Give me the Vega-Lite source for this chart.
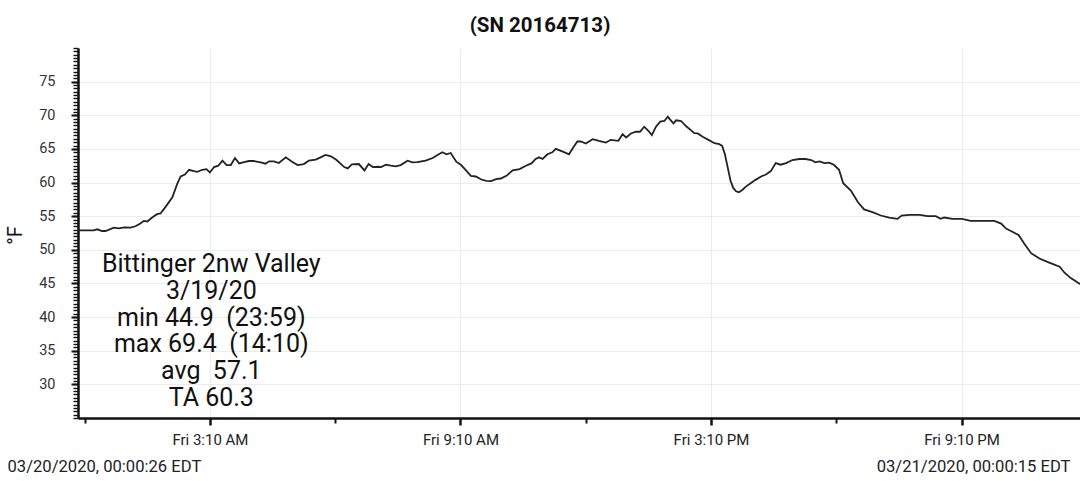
{
  "$schema": "https://vega.github.io/schema/vega-lite/v6.json",
  "width": 1002,
  "height": 370,
  "autosize": "none",
  "padding": {"left": 78, "top": 48, "right": 0, "bottom": 63},
  "background": "white",
  "title": {
    "text": "(SN 20164713)",
    "font": "Roboto",
    "fontSize": 20.5,
    "fontWeight": "bold",
    "color": "#111",
    "anchor": "middle",
    "dx": -39,
    "offset": 11
  },
  "data": {
    "values": [
      {"t": "2020-03-20T00:00:26", "temp": 52.9},
      {"t": "2020-03-20T00:23", "temp": 52.9},
      {"t": "2020-03-20T00:28", "temp": 53.05},
      {"t": "2020-03-20T00:35", "temp": 52.8},
      {"t": "2020-03-20T00:40", "temp": 52.8},
      {"t": "2020-03-20T00:52", "temp": 53.3},
      {"t": "2020-03-20T00:59", "temp": 53.2},
      {"t": "2020-03-20T01:07", "temp": 53.35},
      {"t": "2020-03-20T01:16", "temp": 53.3},
      {"t": "2020-03-20T01:23", "temp": 53.5},
      {"t": "2020-03-20T01:30", "temp": 53.9},
      {"t": "2020-03-20T01:35", "temp": 54.3},
      {"t": "2020-03-20T01:40", "temp": 54.2},
      {"t": "2020-03-20T01:47", "temp": 54.8},
      {"t": "2020-03-20T01:54", "temp": 55.3},
      {"t": "2020-03-20T01:59", "temp": 55.4},
      {"t": "2020-03-20T02:06", "temp": 56.35},
      {"t": "2020-03-20T02:16", "temp": 57.8},
      {"t": "2020-03-20T02:23", "temp": 59.8},
      {"t": "2020-03-20T02:28", "temp": 60.9},
      {"t": "2020-03-20T02:34", "temp": 61.2},
      {"t": "2020-03-20T02:40", "temp": 61.9},
      {"t": "2020-03-20T02:47", "temp": 61.7},
      {"t": "2020-03-20T02:52", "temp": 61.6},
      {"t": "2020-03-20T02:59", "temp": 61.9},
      {"t": "2020-03-20T03:05", "temp": 62.0},
      {"t": "2020-03-20T03:10", "temp": 61.5},
      {"t": "2020-03-20T03:16", "temp": 62.3},
      {"t": "2020-03-20T03:22", "temp": 62.5},
      {"t": "2020-03-20T03:28", "temp": 63.25},
      {"t": "2020-03-20T03:34", "temp": 62.6},
      {"t": "2020-03-20T03:40", "temp": 62.6},
      {"t": "2020-03-20T03:46", "temp": 63.65},
      {"t": "2020-03-20T03:52", "temp": 62.85},
      {"t": "2020-03-20T03:59", "temp": 63.05},
      {"t": "2020-03-20T04:06", "temp": 63.2},
      {"t": "2020-03-20T04:13", "temp": 63.2},
      {"t": "2020-03-20T04:23", "temp": 63.0},
      {"t": "2020-03-20T04:30", "temp": 62.8},
      {"t": "2020-03-20T04:35", "temp": 63.15},
      {"t": "2020-03-20T04:42", "temp": 63.15},
      {"t": "2020-03-20T04:49", "temp": 62.9},
      {"t": "2020-03-20T04:59", "temp": 63.75},
      {"t": "2020-03-20T05:08", "temp": 63.1},
      {"t": "2020-03-20T05:16", "temp": 62.6},
      {"t": "2020-03-20T05:25", "temp": 62.75},
      {"t": "2020-03-20T05:32", "temp": 63.25},
      {"t": "2020-03-20T05:42", "temp": 63.4},
      {"t": "2020-03-20T05:49", "temp": 63.75},
      {"t": "2020-03-20T05:56", "temp": 64.1},
      {"t": "2020-03-20T06:04", "temp": 63.9},
      {"t": "2020-03-20T06:12", "temp": 63.35},
      {"t": "2020-03-20T06:23", "temp": 62.3},
      {"t": "2020-03-20T06:28", "temp": 62.1},
      {"t": "2020-03-20T06:34", "temp": 62.7},
      {"t": "2020-03-20T06:44", "temp": 62.75},
      {"t": "2020-03-20T06:52", "temp": 61.8},
      {"t": "2020-03-20T06:58", "temp": 62.75},
      {"t": "2020-03-20T07:04", "temp": 62.3},
      {"t": "2020-03-20T07:11", "temp": 62.35},
      {"t": "2020-03-20T07:16", "temp": 62.3},
      {"t": "2020-03-20T07:23", "temp": 62.65},
      {"t": "2020-03-20T07:30", "temp": 62.5},
      {"t": "2020-03-20T07:37", "temp": 62.4},
      {"t": "2020-03-20T07:44", "temp": 62.6},
      {"t": "2020-03-20T07:54", "temp": 63.25},
      {"t": "2020-03-20T08:01", "temp": 63.0},
      {"t": "2020-03-20T08:08", "temp": 63.05},
      {"t": "2020-03-20T08:20", "temp": 63.25},
      {"t": "2020-03-20T08:30", "temp": 63.65},
      {"t": "2020-03-20T08:37", "temp": 64.1},
      {"t": "2020-03-20T08:44", "temp": 64.5},
      {"t": "2020-03-20T08:50", "temp": 64.2},
      {"t": "2020-03-20T08:56", "temp": 64.4},
      {"t": "2020-03-20T09:04", "temp": 63.1},
      {"t": "2020-03-20T09:11", "temp": 62.6},
      {"t": "2020-03-20T09:18", "temp": 61.8},
      {"t": "2020-03-20T09:25", "temp": 61.0},
      {"t": "2020-03-20T09:32", "temp": 60.9},
      {"t": "2020-03-20T09:40", "temp": 60.45},
      {"t": "2020-03-20T09:47", "temp": 60.25},
      {"t": "2020-03-20T09:54", "temp": 60.2},
      {"t": "2020-03-20T10:01", "temp": 60.5},
      {"t": "2020-03-20T10:08", "temp": 60.6},
      {"t": "2020-03-20T10:16", "temp": 61.0},
      {"t": "2020-03-20T10:25", "temp": 61.8},
      {"t": "2020-03-20T10:35", "temp": 62.0},
      {"t": "2020-03-20T10:44", "temp": 62.5},
      {"t": "2020-03-20T10:52", "temp": 62.85},
      {"t": "2020-03-20T10:58", "temp": 63.5},
      {"t": "2020-03-20T11:03", "temp": 63.75},
      {"t": "2020-03-20T11:08", "temp": 63.5},
      {"t": "2020-03-20T11:15", "temp": 64.2},
      {"t": "2020-03-20T11:22", "temp": 64.5},
      {"t": "2020-03-20T11:27", "temp": 65.0},
      {"t": "2020-03-20T11:37", "temp": 64.6},
      {"t": "2020-03-20T11:46", "temp": 64.2},
      {"t": "2020-03-20T11:52", "temp": 65.2},
      {"t": "2020-03-20T11:58", "temp": 66.1},
      {"t": "2020-03-20T12:03", "temp": 66.1},
      {"t": "2020-03-20T12:10", "temp": 65.8},
      {"t": "2020-03-20T12:20", "temp": 66.45},
      {"t": "2020-03-20T12:29", "temp": 66.2},
      {"t": "2020-03-20T12:39", "temp": 65.95},
      {"t": "2020-03-20T12:46", "temp": 66.35},
      {"t": "2020-03-20T12:57", "temp": 66.2},
      {"t": "2020-03-20T13:03", "temp": 67.2},
      {"t": "2020-03-20T13:08", "temp": 66.7},
      {"t": "2020-03-20T13:15", "temp": 67.3},
      {"t": "2020-03-20T13:22", "temp": 67.55},
      {"t": "2020-03-20T13:28", "temp": 67.55},
      {"t": "2020-03-20T13:34", "temp": 68.3},
      {"t": "2020-03-20T13:40", "temp": 67.7},
      {"t": "2020-03-20T13:45", "temp": 67.05},
      {"t": "2020-03-20T13:51", "temp": 68.3},
      {"t": "2020-03-20T13:57", "temp": 69.05},
      {"t": "2020-03-20T14:03", "temp": 69.15},
      {"t": "2020-03-20T14:08", "temp": 69.8},
      {"t": "2020-03-20T14:11", "temp": 69.4},
      {"t": "2020-03-20T14:16", "temp": 68.8},
      {"t": "2020-03-20T14:20", "temp": 69.25},
      {"t": "2020-03-20T14:27", "temp": 69.15},
      {"t": "2020-03-20T14:34", "temp": 68.4},
      {"t": "2020-03-20T14:41", "temp": 67.8},
      {"t": "2020-03-20T14:46", "temp": 67.35},
      {"t": "2020-03-20T14:51", "temp": 67.3},
      {"t": "2020-03-20T14:58", "temp": 66.8},
      {"t": "2020-03-20T15:07", "temp": 66.3},
      {"t": "2020-03-20T15:15", "temp": 65.85},
      {"t": "2020-03-20T15:22", "temp": 65.7},
      {"t": "2020-03-20T15:26", "temp": 65.45},
      {"t": "2020-03-20T15:30", "temp": 64.2},
      {"t": "2020-03-20T15:34", "temp": 62.25},
      {"t": "2020-03-20T15:38", "temp": 60.3},
      {"t": "2020-03-20T15:42", "temp": 59.2},
      {"t": "2020-03-20T15:46", "temp": 58.7},
      {"t": "2020-03-20T15:50", "temp": 58.55},
      {"t": "2020-03-20T15:55", "temp": 58.9},
      {"t": "2020-03-20T16:00", "temp": 59.4},
      {"t": "2020-03-20T16:07", "temp": 59.9},
      {"t": "2020-03-20T16:14", "temp": 60.4},
      {"t": "2020-03-20T16:22", "temp": 60.9},
      {"t": "2020-03-20T16:29", "temp": 61.2},
      {"t": "2020-03-20T16:36", "temp": 61.7},
      {"t": "2020-03-20T16:43", "temp": 62.9},
      {"t": "2020-03-20T16:50", "temp": 62.65},
      {"t": "2020-03-20T16:58", "temp": 62.9},
      {"t": "2020-03-20T17:07", "temp": 63.35},
      {"t": "2020-03-20T17:17", "temp": 63.5},
      {"t": "2020-03-20T17:26", "temp": 63.5},
      {"t": "2020-03-20T17:34", "temp": 63.35},
      {"t": "2020-03-20T17:40", "temp": 63.0},
      {"t": "2020-03-20T17:46", "temp": 63.15},
      {"t": "2020-03-20T17:53", "temp": 62.9},
      {"t": "2020-03-20T18:00", "temp": 62.95},
      {"t": "2020-03-20T18:07", "temp": 62.6},
      {"t": "2020-03-20T18:14", "temp": 61.9},
      {"t": "2020-03-20T18:20", "temp": 59.9},
      {"t": "2020-03-20T18:31", "temp": 58.8},
      {"t": "2020-03-20T18:41", "temp": 57.1},
      {"t": "2020-03-20T18:50", "temp": 56.0},
      {"t": "2020-03-20T19:02", "temp": 55.6},
      {"t": "2020-03-20T19:14", "temp": 55.1},
      {"t": "2020-03-20T19:26", "temp": 54.8},
      {"t": "2020-03-20T19:38", "temp": 54.6},
      {"t": "2020-03-20T19:44", "temp": 55.1},
      {"t": "2020-03-20T19:55", "temp": 55.2},
      {"t": "2020-03-20T20:10", "temp": 55.2},
      {"t": "2020-03-20T20:21", "temp": 55.0},
      {"t": "2020-03-20T20:33", "temp": 55.0},
      {"t": "2020-03-20T20:40", "temp": 54.6},
      {"t": "2020-03-20T20:45", "temp": 54.8},
      {"t": "2020-03-20T20:57", "temp": 54.6},
      {"t": "2020-03-20T21:11", "temp": 54.6},
      {"t": "2020-03-20T21:23", "temp": 54.3},
      {"t": "2020-03-20T21:40", "temp": 54.3},
      {"t": "2020-03-20T21:57", "temp": 54.3},
      {"t": "2020-03-20T22:07", "temp": 53.9},
      {"t": "2020-03-20T22:14", "temp": 53.15},
      {"t": "2020-03-20T22:21", "temp": 52.8},
      {"t": "2020-03-20T22:32", "temp": 52.2},
      {"t": "2020-03-20T22:40", "temp": 50.95},
      {"t": "2020-03-20T22:50", "temp": 49.5},
      {"t": "2020-03-20T23:02", "temp": 48.7},
      {"t": "2020-03-20T23:16", "temp": 48.1},
      {"t": "2020-03-20T23:31", "temp": 47.5},
      {"t": "2020-03-20T23:38", "temp": 46.6},
      {"t": "2020-03-20T23:47", "temp": 45.8},
      {"t": "2020-03-20T23:58", "temp": 45.05},
      {"t": "2020-03-21T00:00:15", "temp": 44.9}
    ]
  },
  "layer": [
    {
      "mark": {"type": "line", "color": "#222", "strokeWidth": 1.8, "clip": true},
      "encoding": {
        "x": {
          "field": "t",
          "type": "temporal",
          "scale": {
            "domain": [
              {"year": 2020, "month": 3, "date": 20, "hours": 0, "minutes": 0, "seconds": 26},
              {"year": 2020, "month": 3, "date": 21, "hours": 0, "minutes": 0, "seconds": 15}
            ],
            "nice": false
          },
          "axis": {
            "orient": "bottom",
            "values": [
              {"year": 2020, "month": 3, "date": 20, "hours": 3, "minutes": 10},
              {"year": 2020, "month": 3, "date": 20, "hours": 9, "minutes": 10},
              {"year": 2020, "month": 3, "date": 20, "hours": 15, "minutes": 10},
              {"year": 2020, "month": 3, "date": 20, "hours": 21, "minutes": 10}
            ],
            "format": "%a %-I:%M %p",
            "labelFont": "Roboto",
            "labelFontSize": 15,
            "labelColor": "#222",
            "labelPadding": 7,
            "labelFlush": false,
            "tickSize": 7,
            "tickWidth": 2.5,
            "tickColor": "#111",
            "domainColor": "#111",
            "domainWidth": 2.5,
            "grid": true,
            "gridColor": "#ececec",
            "gridWidth": 1,
            "title": "03/20/2020, 00:00:26 EDT",
            "titleFont": "Roboto",
            "titleFontSize": 16.6,
            "titleFontWeight": "normal",
            "titleColor": "#222",
            "titleAlign": "left",
            "titleAnchor": null,
            "titleBaseline": "middle",
            "titleX": -71,
            "titleY": 48
          }
        },
        "y": {
          "field": "temp",
          "type": "quantitative",
          "scale": {"domain": [25, 80], "nice": false, "zero": false},
          "axis": {
            "orient": "left",
            "values": [30, 35, 40, 45, 50, 55, 60, 65, 70, 75],
            "labelFont": "Roboto",
            "labelFontSize": 14.5,
            "labelColor": "#333",
            "labelPadding": 16,
            "tickSize": 7,
            "tickWidth": 2,
            "tickColor": "#111",
            "domainColor": "#111",
            "domainWidth": 2.5,
            "grid": true,
            "gridColor": "#ececec",
            "gridWidth": 1,
            "title": "°F",
            "titleFont": "Roboto",
            "titleFontSize": 20,
            "titleFontWeight": "normal",
            "titleColor": "#111",
            "titleAngle": -90,
            "titleAlign": "center",
            "titleBaseline": "middle",
            "titleX": -63,
            "titleY": 187
          }
        }
      }
    },
    {
      "data": {"values": [{}]},
      "mark": {
        "type": "text",
        "font": "Roboto",
        "fontSize": 25,
        "lineHeight": 26.7,
        "align": "center",
        "baseline": "middle",
        "color": "#111"
      },
      "encoding": {
        "x": {
          "datum": {"year": 2020, "month": 3, "date": 20, "hours": 3, "minutes": 12},
          "type": "temporal",
          "axis": {
            "orient": "bottom",
            "values": [
              {"year": 2020, "month": 3, "date": 20, "hours": 0, "minutes": 10},
              {"year": 2020, "month": 3, "date": 20, "hours": 6, "minutes": 10},
              {"year": 2020, "month": 3, "date": 20, "hours": 12, "minutes": 10},
              {"year": 2020, "month": 3, "date": 20, "hours": 18, "minutes": 10}
            ],
            "labels": false,
            "grid": false,
            "domain": false,
            "tickSize": 5,
            "tickWidth": 2,
            "tickColor": "#111",
            "title": "03/21/2020, 00:00:15 EDT",
            "titleFont": "Roboto",
            "titleFontSize": 16.6,
            "titleFontWeight": "normal",
            "titleColor": "#222",
            "titleAlign": "right",
            "titleAnchor": null,
            "titleBaseline": "middle",
            "titleX": 992,
            "titleY": 48
          }
        },
        "y": {
          "datum": 47.87,
          "type": "quantitative",
          "axis": {
            "orient": "left",
            "values": [25, 25.5, 26, 26.5, 27, 27.5, 28, 28.5, 29, 29.5, 30, 30.5, 31, 31.5, 32, 32.5, 33, 33.5, 34, 34.5, 35, 35.5, 36, 36.5, 37, 37.5, 38, 38.5, 39, 39.5, 40, 40.5, 41, 41.5, 42, 42.5, 43, 43.5, 44, 44.5, 45, 45.5, 46, 46.5, 47, 47.5, 48, 48.5, 49, 49.5, 50, 50.5, 51, 51.5, 52, 52.5, 53, 53.5, 54, 54.5, 55, 55.5, 56, 56.5, 57, 57.5, 58, 58.5, 59, 59.5, 60, 60.5, 61, 61.5, 62, 62.5, 63, 63.5, 64, 64.5, 65, 65.5, 66, 66.5, 67, 67.5, 68, 68.5, 69, 69.5, 70, 70.5, 71, 71.5, 72, 72.5, 73, 73.5, 74, 74.5, 75, 75.5, 76, 76.5, 77, 77.5, 78, 78.5, 79, 79.5, 80],
            "labels": false,
            "grid": false,
            "domain": false,
            "tickSize": 5,
            "tickWidth": 1.4,
            "tickColor": "#111",
            "title": null
          }
        },
        "text": {
          "value": [
            "Bittinger 2nw Valley",
            "3/19/20",
            "min 44.9\u00a0 (23:59)",
            "max 69.4\u00a0 (14:10)",
            "avg\u00a0 57.1",
            "TA 60.3"
          ]
        }
      }
    }
  ],
  "resolve": {"axis": {"x": "independent", "y": "independent"}},
  "config": {
    "font": "Roboto",
    "view": {"stroke": null}
  }
}
